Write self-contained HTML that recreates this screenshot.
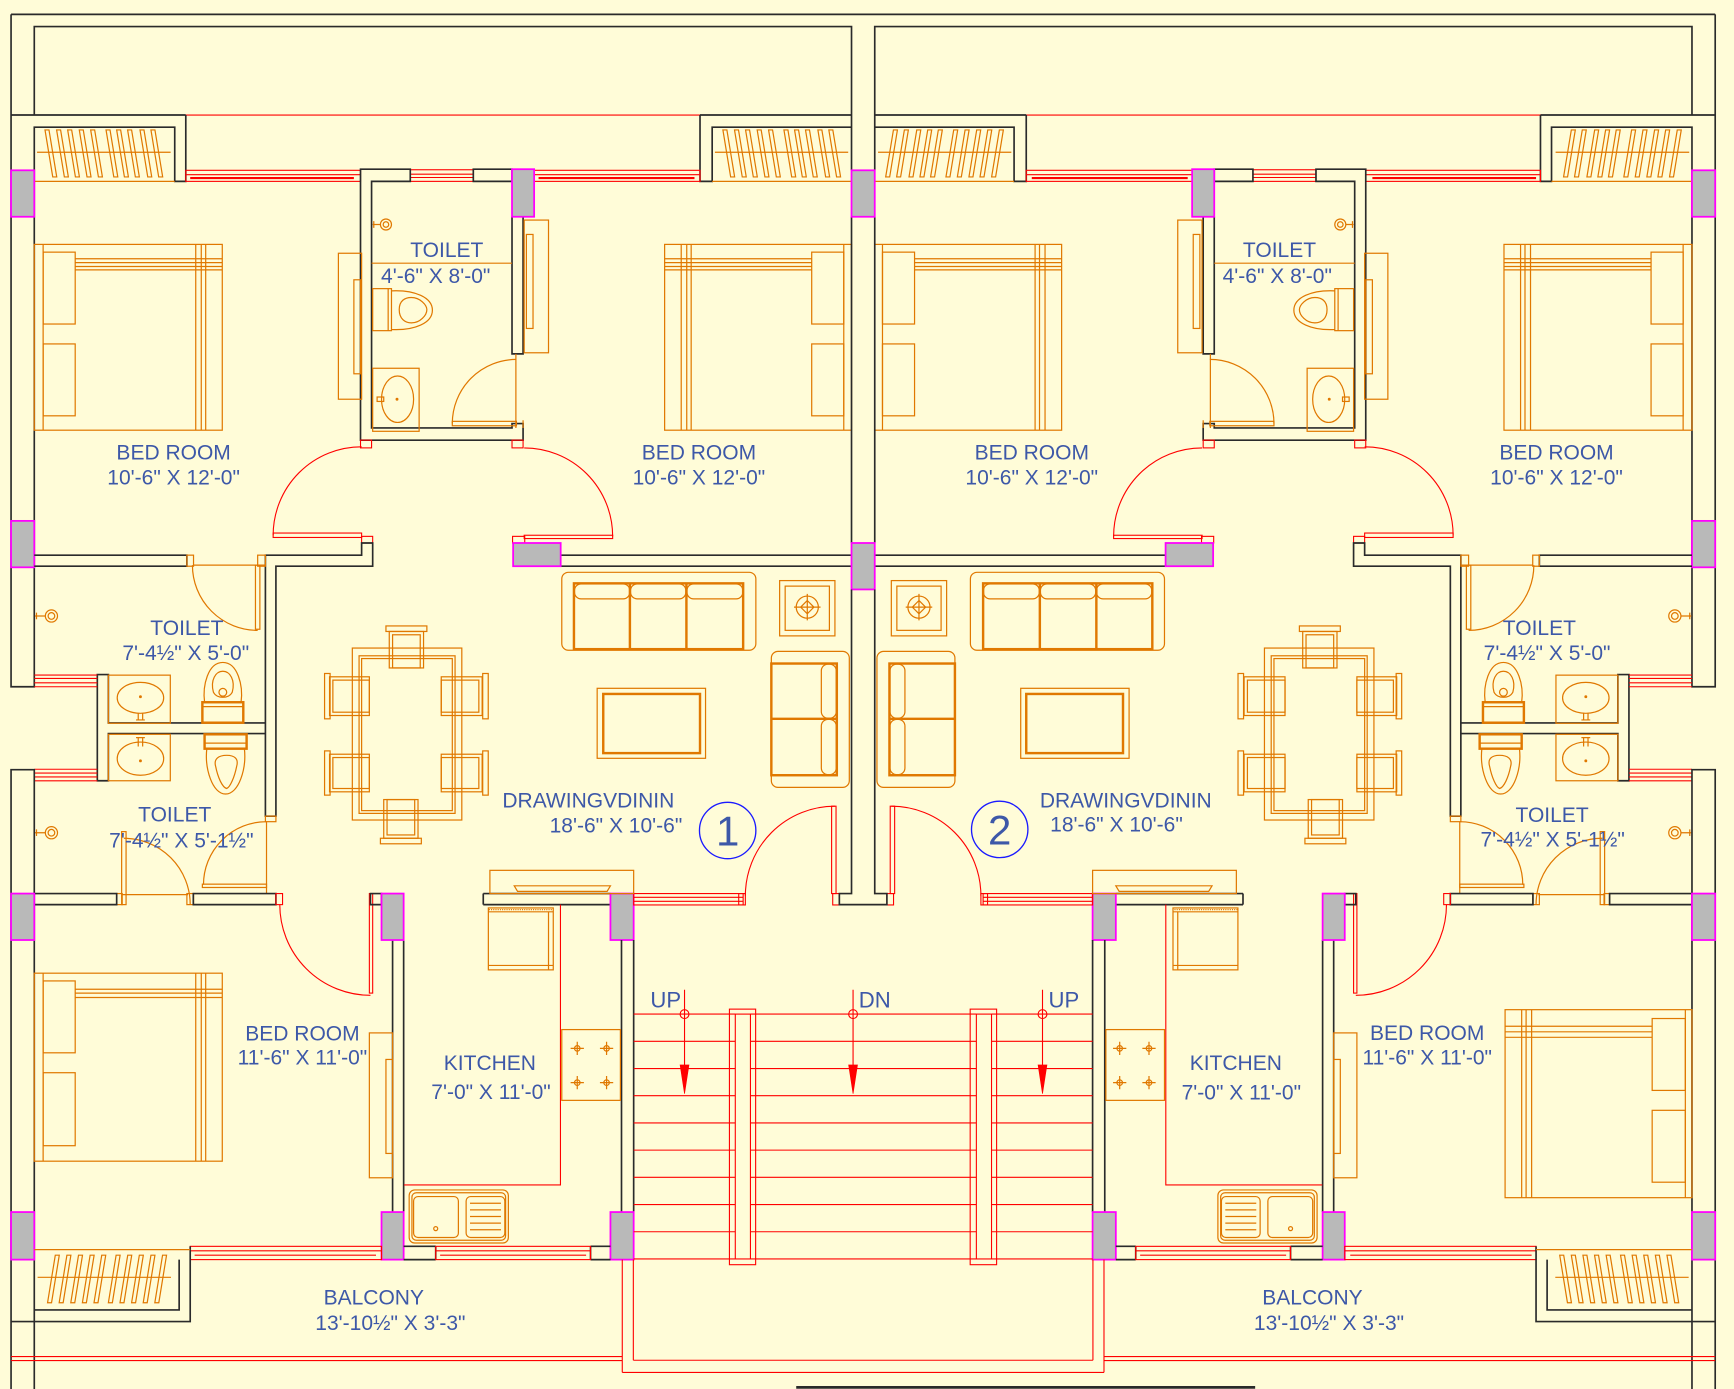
<!DOCTYPE html>
<html><head><meta charset="utf-8"><title>Floor plan</title><style>
html,body{margin:0;padding:0;background:#fffcd8;}
svg{display:block}
</style></head><body>
<svg xmlns="http://www.w3.org/2000/svg" width="1734" height="1389" viewBox="0 0 1568 1256" preserveAspectRatio="none">
<style>
.k{fill:none;stroke:#2a2a2a;stroke-width:1.5}
.r{fill:none;stroke:#ff0000;stroke-width:1}
.r2{fill:none;stroke:#ff0000;stroke-width:2}
.o{fill:none;stroke:#e07800;stroke-width:1.1}
.o2{fill:none;stroke:#e07800;stroke-width:2.2}
.p{fill:#b9b9b9;stroke:#ff00ff;stroke-width:1.6}
.t{font-family:"Liberation Sans",Arial,sans-serif;font-size:19px;fill:#3d58a8;text-anchor:middle}
</style>
<rect width="1568" height="1256" fill="#fffcd8"/>

<!-- shared frame -->
<path class="k" d="M10,13 H1551"/>

<g id="u1">
<path class="k" d="M10,13 V104"/>
<path class="k" d="M31,104 V24 H770 V104"/>
<path class="k" d="M10,104 H168"/>
<path class="r" d="M168,104 H633"/>
<path class="k" d="M633,104 H770"/>
<!-- left wall + top wardrobe -->
<path class="k" d="M10,104 V621 H31 V115 H158 V164 H168 V104"/>
<path class="k" d="M633,104 V164 H644 V115 H770"/>
<!-- wardrobes top -->
<path class="o" d="M31,164 H158 M33.5,137.7 H154.3 M644,164 H770 M646.5,137.7 H767"/>
<g class="o">
<polygon points="40.7,117.5 44.3,117.5 51.3,160 47.7,160"/>
<polygon points="51.2,117.5 54.8,117.5 61.8,160 58.2,160"/>
<polygon points="61.2,117.5 64.8,117.5 71.8,160 68.2,160"/>
<polygon points="71.7,117.5 75.3,117.5 82.3,160 78.7,160"/>
<polygon points="82,117.5 85.6,117.5 92.6,160 89,160"/>
<polygon points="95.9,117.5 99.5,117.5 106.5,160 102.9,160"/>
<polygon points="105.5,117.5 109.1,117.5 116.1,160 112.5,160"/>
<polygon points="115.4,117.5 119,117.5 126,160 122.4,160"/>
<polygon points="126.6,117.5 130.2,117.5 137.2,160 133.6,160"/>
<polygon points="136.5,117.5 140.1,117.5 147.1,160 143.5,160"/>
<polygon points="653.7,117.5 657.3,117.5 664.3,160 660.7,160"/>
<polygon points="664.2,117.5 667.8,117.5 674.8,160 671.2,160"/>
<polygon points="674.2,117.5 677.8,117.5 684.8,160 681.2,160"/>
<polygon points="684.7,117.5 688.3,117.5 695.3,160 691.7,160"/>
<polygon points="695,117.5 698.6,117.5 705.6,160 702,160"/>
<polygon points="708.9,117.5 712.5,117.5 719.5,160 715.9,160"/>
<polygon points="718.5,117.5 722.1,117.5 729.1,160 725.5,160"/>
<polygon points="728.4,117.5 732,117.5 739,160 735.4,160"/>
<polygon points="739.6,117.5 743.2,117.5 750.2,160 746.6,160"/>
<polygon points="749.5,117.5 753.1,117.5 760.1,160 756.5,160"/>
</g>
<!-- top windows -->
<g class="r">
<rect x="168" y="154" width="158" height="10"/><path d="M168,158 H326"/>
<rect x="371" y="153.5" width="57" height="10.5"/><path d="M371,157.5 H428 M371,160.5 H428"/>
<rect x="483" y="154" width="150" height="10"/><path d="M483,158 H633"/>
</g>
<path class="r2" d="M172,161 H320 M487,161 H628"/>
<!-- top toilet walls -->
<path class="k" d="M326,153 H371 V164 H336 V387 H463 V383 H473 V398 H326 Z"/>
<path class="k" d="M428,153 H463 V164 H428 Z"/>
<path class="k" d="M463,196 V320 H473 V196"/>
<rect class="p" x="463" y="153" width="20" height="43"/>
<rect class="r" x="326" y="398" width="10" height="7"/>
<rect class="r" x="463" y="398" width="10" height="7"/>
<!-- top toilet fixtures -->
<path class="o" d="M337,203 H344 M338,200 V206"/>
<circle class="o" cx="349" cy="203" r="5"/>
<circle class="o" cx="349" cy="203" r="2.5"/>
<path class="o" d="M336,238 H463"/>
<rect class="o" x="337" y="261" width="17" height="38"/>
<path class="o" d="M351,261 V299"/>
<path class="o" d="M354,263 C375,262 391,269 391,280.5 C391,292 375,299 354,298"/>
<path class="o" d="M361,280 C361,272 366,269 372,269 C380,269 386,276 386,280 C386,285 380,292 372,292 C366,292 361,288 361,280 Z"/>
<rect class="o" x="337" y="333" width="42" height="57"/>
<ellipse class="o" cx="359.5" cy="361" rx="14.5" ry="21"/>
<rect class="o" x="341" y="359" width="6" height="4"/>
<circle cx="359" cy="361" r="1.3" fill="#e07800"/>
<rect class="o" x="409" y="381" width="58" height="4"/>
<path class="o" d="M409,383 A58,58 0 0 1 467,325"/>
<path class="o" d="M466.5,320 V387 M473,380 V387"/>
<!-- cupboards beside toilet -->
<rect class="o" x="306" y="229" width="21" height="132"/>
<rect class="o" x="320" y="253" width="6" height="85"/>
<rect class="o" x="474" y="199" width="22" height="120"/>
<rect class="o" x="476" y="212" width="6" height="85"/>
<!-- top beds -->
<g class="o">
<rect x="31" y="221" width="170" height="168"/>
<path d="M39,221 V389"/>
<rect x="39" y="228" width="29" height="65"/>
<rect x="39" y="311" width="29" height="65"/>
<path d="M68,234 H201 M68,237.5 H201 M68,241 H201 M68,244 H201"/>
<path d="M177,221 V389 M182,221 V389 M186,221 V389"/>
<rect x="601" y="221" width="169" height="168"/>
<path d="M763,221 V389"/>
<rect x="734" y="228" width="29" height="65"/>
<rect x="734" y="311" width="29" height="65"/>
<path d="M601,234 H734 M601,237.5 H734 M601,241 H734 M601,244 H734"/>
<path d="M616,221 V389 M621,221 V389 M625,221 V389"/>
</g>
<!-- bedroom doors -->
<rect class="r" x="247" y="482" width="80" height="4"/>
<path class="r" d="M247,484 A80,80 0 0 1 327,404"/>
<rect class="r" x="474" y="484" width="80" height="3"/>
<path class="r" d="M474,405 A80,80 0 0 1 554,485"/>
<rect class="r" x="327" y="485" width="10" height="6"/>
<rect class="r" x="463.5" y="485" width="11" height="6"/>
<!-- walls mid -->
<rect class="p" x="10" y="154" width="21" height="42"/>
<rect class="p" x="10" y="471" width="21" height="42"/>
<path class="k" d="M31,502 H169 V512 H31"/>
<path class="k" d="M240,738 V502 H327 V491 H337 V512 H249.5 V738 Z"/>
<path class="k" d="M507,502 H770 M507,512 H770"/>
<rect class="p" x="464" y="491" width="43" height="21"/>
<!-- shaft toilets -->
<path class="k" d="M240,653.7 H98 V610 H88 V706 H98 V663.3 H240"/>
<path class="r" d="M31,610.4 H88 M31,613.5 H88 M31,617.4 H88 M31,621 H88"/>
<path class="r" d="M31,695.6 H88 M31,699 H88 M31,702.5 H88 M31,706 H88"/>
<!-- upper toilet door -->
<rect class="o" x="169" y="502" width="6" height="10"/>
<rect class="o" x="233" y="502" width="7" height="10"/>
<path class="o" d="M175,511 H240"/>
<rect class="o" x="231" y="511" width="4" height="58"/>
<path class="o" d="M174,511 A59,59 0 0 0 233,570"/>
<!-- upper toilet fixtures -->
<path class="o" d="M31.6,557 H41 M33,554 V560"/>
<circle class="o" cx="46.5" cy="557" r="5.5"/>
<circle class="o" cx="46.5" cy="557" r="3"/>
<rect class="o" x="98" y="610.5" width="56" height="43.5"/>
<ellipse class="o" cx="127" cy="631" rx="21" ry="14"/>
<path class="o" d="M125,645 V651 M129,645 V651 M123,651 H131"/>
<circle cx="127" cy="630" r="1.3" fill="#e07800"/>
<rect class="o2" x="183" y="635" width="37" height="18.5"/>
<path class="o" d="M183,639 H220"/>
<path class="o" d="M185,635 C183,620 188,599 201.5,599 C215,599 220,620 218,635"/>
<path class="o" d="M193,626 C190,615 195,607 201.5,607 C208,607 213,615 210,626 C207,632 196,632 193,626 Z"/>
<circle class="o" cx="201.5" cy="626" r="3.5"/>
<!-- lower toilet fixtures -->
<path class="o" d="M31.6,753 H41 M33,750 V756"/>
<circle class="o" cx="46.5" cy="753" r="5.5"/>
<circle class="o" cx="46.5" cy="753" r="3"/>
<rect class="o" x="98" y="664" width="56" height="42"/>
<ellipse class="o" cx="127" cy="686" rx="21" ry="15"/>
<path class="o" d="M125,667 V675 M129,667 V675 M123,667 H131"/>
<circle cx="127" cy="688" r="1.3" fill="#e07800"/>
<rect class="o2" x="185" y="664" width="38" height="13"/>
<path class="o" d="M185,672 H223"/>
<path class="o" d="M187,677 C185,695 192,718 204,718 C216,718 223,695 221,677"/>
<path class="o" d="M195,693 C193,686 198,683 205,683 C212,683 216,686 214,693 C212,703 208,712 205,713 C201,712 197,703 195,693 Z"/>
<!-- lower toilet doors -->
<rect class="o" x="240" y="738" width="9.5" height="5"/>
<path class="o" d="M241,743 V808"/>
<rect class="o" x="183" y="799.5" width="58" height="3"/>
<path class="o" d="M184,800 A57,57 0 0 1 241,743"/>
<rect class="o" x="110" y="752" width="4" height="66"/>
<path class="o" d="M112,758 A60,60 0 0 1 172,818"/>
<rect class="o" x="105.5" y="808" width="5" height="10"/>
<rect class="o" x="169" y="808" width="6" height="10"/>
<path class="o" d="M110,809 H170"/>
<path class="k" d="M31,808 H105.5 V818 H31"/>
<path class="k" d="M174.8,808 H249.5 V818 H174.8 Z"/>
<rect class="r" x="249.5" y="808" width="6" height="10"/>
<!-- lower left wall -->
<path class="k" d="M10,1256 V696 H31 V1256"/>
<rect class="p" x="10" y="808" width="21" height="42"/>
<rect class="p" x="10" y="1096" width="21" height="43"/>
<!-- lower bedroom door -->
<rect class="r" x="334" y="808" width="3" height="90"/>
<path class="r" d="M253,818 A82,82 0 0 0 335,900"/>
<path class="k" d="M335,808 H345 V818 H335 Z"/>
<!-- bedroom / kitchen walls -->
<path class="k" d="M355,850 V1096 M365,850 V1096"/>
<rect class="p" x="345" y="808" width="20" height="42"/>
<rect class="p" x="345" y="1096" width="20" height="43"/>
<path class="k" d="M437,808 H552 M437,818 H552 M437,808 V818"/>
<rect class="p" x="552" y="808" width="21" height="42"/>
<path class="k" d="M562,850 V1096 M573,850 V1096"/>
<rect class="p" x="552" y="1096" width="21" height="43"/>
<!-- front window + entrance -->
<g class="r">
<rect x="573" y="808" width="99" height="10.3"/><path d="M573,811.4 H672 M573,815 H672"/>
<rect x="668" y="808" width="6" height="10.3"/>
<rect x="753" y="808" width="6" height="10.3"/>
<rect x="752" y="729" width="4" height="79"/>
<path d="M755,729 A81,81 0 0 0 674,810"/>
</g>
<!-- bottom walls/windows -->
<path class="k" d="M365,1127 H394 M365,1139 H394 M394,1127 V1139"/>
<path class="k" d="M534,1127 H552 M534,1139 H552 M534,1127 V1139"/>
<g class="r">
<rect x="172" y="1127" width="173" height="12"/><path d="M172,1131 H345 M176,1135 H340"/>
<rect x="394" y="1127" width="140" height="12"/><path d="M394,1131 H534 M398,1135 H530"/>
</g>
<!-- balcony wardrobe -->
<path class="k" d="M10,1195 H172 V1127"/>
<path class="k" d="M31,1184.5 H162 V1139"/>
<path class="o" d="M31,1130 H172 M34,1155 H154.6"/>
<g class="o">
<polygon points="50,1135 53.6,1135 46.6,1178 43,1178"/>
<polygon points="60.5,1135 64.1,1135 57.1,1178 53.5,1178"/>
<polygon points="71,1135 74.6,1135 67.6,1178 64,1178"/>
<polygon points="81.5,1135 85.1,1135 78.1,1178 74.5,1178"/>
<polygon points="92,1135 95.6,1135 88.6,1178 85,1178"/>
<polygon points="105,1135 108.6,1135 101.6,1178 98,1178"/>
<polygon points="115.5,1135 119.1,1135 112.1,1178 108.5,1178"/>
<polygon points="126,1135 129.6,1135 122.6,1178 119,1178"/>
<polygon points="136.5,1135 140.1,1135 133.1,1178 129.5,1178"/>
<polygon points="147,1135 150.6,1135 143.6,1178 140,1178"/>
</g>
<path class="r" d="M10,1226.7 H562.7 M10,1230.3 H562.7 M562.7,1139 V1241 M572.7,1139 V1230"/>
<!-- lower bedroom cupboard -->
<rect class="o" x="334" y="934" width="21" height="131"/>
<rect class="o" x="349" y="958" width="6" height="85"/>
<!-- kitchen -->
<path class="r" d="M506.8,818 V1071.5 H365.3"/>
<rect class="o" x="443" y="787" width="130" height="21"/>
<path class="o" d="M465,801 H552 L549,806 H468 Z"/>
<rect class="o" x="441.6" y="821" width="58.7" height="56"/>
<path class="o" d="M441.6,824.5 H500.3 M441.6,873 H500.3 M496,824.5 V877"/>
<path class="o" d="M442,822.5 H500" stroke-dasharray="1 1"/>
<rect class="o" x="508" y="931" width="53" height="64"/>
<g class="o">
<circle cx="522" cy="948" r="2.5"/><path d="M516,948 H528 M522,942 V954"/>
<circle cx="548.5" cy="948" r="2.5"/><path d="M542.5,948 H554.5 M548.5,942 V954"/>
<circle cx="522" cy="979" r="2.5"/><path d="M516,979 H528 M522,973 V985"/>
<circle cx="548.5" cy="979" r="2.5"/><path d="M542.5,979 H554.5 M548.5,973 V985"/>
<rect x="370" y="1076" width="89.7" height="48" rx="5"/>
<rect x="372.5" y="1078.5" width="84.7" height="43" rx="4"/>
<rect x="374" y="1082" width="40.5" height="37" rx="4"/>
<rect x="421.5" y="1082" width="35" height="37" rx="4"/>
<circle cx="394" cy="1111" r="1.8"/>
<path d="M425,1088 H453 M425,1094 H453 M425,1100 H453 M425,1106 H453 M425,1112 H453"/>
</g>
<!-- drawing room furniture -->
<g class="o">
<rect x="508" y="517.5" width="175.5" height="70.5" rx="6"/>
<rect x="519.5" y="528" width="50" height="13.5" rx="6"/>
<rect x="570.2" y="528" width="50" height="13.5" rx="6"/>
<rect x="621.2" y="528" width="50.5" height="13.5" rx="6"/>
<rect x="705" y="525" width="50" height="50"/>
<rect x="710" y="530" width="40" height="40"/>
<circle cx="730" cy="549" r="10"/>
<path d="M730,543 L736,549 L730,555 L724,549 Z M718,549 H742 M730,537 V561"/>
<rect x="697.5" y="589" width="70.5" height="123" rx="6"/>
<rect x="742.7" y="600.5" width="13.5" height="49" rx="6"/>
<rect x="742.7" y="650.5" width="13.5" height="50" rx="6"/>
<rect x="540" y="622.4" width="98" height="63.3"/>
<rect x="318.6" y="586" width="99" height="155.5"/>
<rect x="327" y="595.5" width="82" height="137.5"/>
<rect x="352" y="571" width="31" height="33"/><rect x="355" y="574" width="25" height="30"/><rect x="349" y="566" width="37" height="5"/>
<rect x="347" y="723" width="31" height="35"/><rect x="350" y="723" width="25" height="32"/><rect x="344" y="758" width="37" height="5"/>
<rect x="298" y="612" width="36" height="35"/><rect x="301" y="615" width="33" height="29"/><rect x="293.5" y="609" width="5" height="41"/>
<rect x="298" y="682" width="36" height="34"/><rect x="301" y="685" width="33" height="28"/><rect x="293.5" y="679" width="5" height="40"/>
<rect x="399" y="612" width="37" height="35"/><rect x="399" y="615" width="34" height="29"/><rect x="436.5" y="609" width="5" height="41"/>
<rect x="399" y="682" width="37" height="34"/><rect x="399" y="685" width="34" height="28"/><rect x="436.5" y="679" width="5" height="40"/>
</g>
<g class="o2">
<rect x="519" y="527.5" width="153" height="59.5"/>
<path d="M569.6,527.5 V587 M620.7,527.5 V587"/>
<rect x="697.5" y="600" width="59.2" height="101"/>
<path d="M697.5,650 H756.7"/>
<rect x="545.5" y="627.5" width="87.5" height="53.5"/>
</g>
<rect class="o" x="324.7" y="593" width="86.8" height="142.5" stroke-width="1.8"/>
</g>

<!-- mirrored unit 2 -->
<use href="#u1" transform="matrix(-1,0,0,1,1561,0)"/>

<!-- central divider -->
<path class="k" d="M770,104 V154 M791,104 V154 M770,196 V491 M791,196 V491"/>
<rect class="p" x="770" y="154" width="21" height="42"/>
<rect class="p" x="770" y="491" width="21" height="42"/>
<path class="k" d="M770,533 V808 H759 V818 H802 V808 H791 V533"/>

<!-- lower beds -->
<g class="o">
<rect x="31" y="880" width="170" height="170"/>
<path d="M39,880 V1050"/>
<rect x="39" y="887" width="29" height="65"/>
<rect x="39" y="970" width="29" height="66"/>
<path d="M68,894.5 H201 M68,898 H201 M68,902 H201"/>
<path d="M177,880 V1050 M182,880 V1050 M186,880 V1050"/>
<rect x="1361" y="913" width="169" height="170"/>
<path d="M1524,913 V1083"/>
<rect x="1494" y="921" width="30" height="65"/>
<rect x="1494" y="1004" width="30" height="65"/>
<path d="M1361,928 H1494 M1361,933 H1494 M1361,938 H1494"/>
<path d="M1376,913 V1083 M1380,913 V1083 M1385,913 V1083"/>
</g>

<!-- stairs -->
<g class="r">
<path d="M572.7,1230 H988.3 M562.7,1241 H998.3"/>
<path d="M573,917H664.9M678.6,917H882.9M896.6,917H988
M573,941.6H664.9M678.6,941.6H882.9M896.6,941.6H988
M573,966.2H664.9M678.6,966.2H882.9M896.6,966.2H988
M573,990.8H664.9M678.6,990.8H882.9M896.6,990.8H988
M573,1015.4H664.9M678.6,1015.4H882.9M896.6,1015.4H988
M573,1040H664.9M678.6,1040H882.9M896.6,1040H988
M573,1064.6H664.9M678.6,1064.6H882.9M896.6,1064.6H988
M573,1089.2H664.9M678.6,1089.2H882.9M896.6,1089.2H988
M573,1113.8H664.9M678.6,1113.8H882.9M896.6,1113.8H988
M573,1138.4H664.9M678.6,1138.4H882.9M896.6,1138.4H988"/>
<rect x="659.6" y="912.5" width="23.7" height="231.1"/>
<rect x="664.9" y="917" width="13.7" height="221.4"/>
<rect x="877.3" y="912.5" width="23.9" height="231.1"/>
<rect x="882.9" y="917" width="13.7" height="221.4"/>
<path d="M619,895 V970 M771.4,895 V970 M942.7,895 V970"/>
<circle cx="619" cy="917" r="4"/>
<circle cx="771.4" cy="917" r="4"/>
<circle cx="942.7" cy="917" r="4"/>
</g>
<path d="M615,963 L623,963 L619,989 Z M767.4,963 L775.4,963 L771.4,989 Z M938.7,963 L946.7,963 L942.7,989 Z" fill="#ff0000" stroke="#ff0000" stroke-width="0.6"/>
<path d="M720,1254.5 H1135" stroke="#2a2a2a" stroke-width="2.5"/>

<!-- circles -->
<ellipse cx="658" cy="751" rx="25.5" ry="25.5" fill="none" stroke="#1a1aff" stroke-width="1.2"/>
<ellipse cx="904" cy="750" rx="25.5" ry="25.5" fill="none" stroke="#1a1aff" stroke-width="1.2"/>
<text class="t" x="658" y="764.5" style="font-size:38px">1</text>
<text class="t" x="904" y="763.5" style="font-size:38px">2</text>

<!-- labels unit 1 -->
<text class="t" x="404" y="232.5">TOILET</text>
<text class="t" x="394" y="255.7">4'-6" X 8'-0"</text>
<text class="t" x="157" y="415.7">BED ROOM</text>
<text class="t" x="157" y="438.2">10'-6" X 12'-0"</text>
<text class="t" x="632" y="415.7">BED ROOM</text>
<text class="t" x="632" y="438.2">10'-6" X 12'-0"</text>
<text class="t" x="169" y="574">TOILET</text>
<text class="t" x="168" y="597">7'-4½" X 5'-0"</text>
<text class="t" x="158" y="743">TOILET</text>
<text class="t" x="164" y="766.5">7'-4½" X 5'-1½"</text>
<text class="t" x="532" y="730">DRAWINGVDININ</text>
<text class="t" x="557" y="753">18'-6" X 10'-6"</text>
<text class="t" x="273.5" y="940.7">BED ROOM</text>
<text class="t" x="273.5" y="962.7">11'-6" X 11'-0"</text>
<text class="t" x="443" y="967.7">KITCHEN</text>
<text class="t" x="444" y="993.7">7'-0" X 11'-0"</text>
<text class="t" x="338" y="1179.7">BALCONY</text>
<text class="t" x="353" y="1202.7">13'-10½" X 3'-3"</text>
<text class="t" x="602" y="911" style="font-size:20px">UP</text>
<text class="t" x="791" y="911" style="font-size:20px">DN</text>
<text class="t" x="962" y="911" style="font-size:20px">UP</text>
<!-- labels unit 2 -->
<text class="t" x="1157" y="232.5">TOILET</text>
<text class="t" x="1155" y="255.7">4'-6" X 8'-0"</text>
<text class="t" x="933" y="415.7">BED ROOM</text>
<text class="t" x="933" y="438.2">10'-6" X 12'-0"</text>
<text class="t" x="1407.5" y="415.7">BED ROOM</text>
<text class="t" x="1407.5" y="438.2">10'-6" X 12'-0"</text>
<text class="t" x="1392" y="574.3">TOILET</text>
<text class="t" x="1399" y="596.8">7'-4½" X 5'-0"</text>
<text class="t" x="1403.5" y="743.2">TOILET</text>
<text class="t" x="1404" y="765.3">7'-4½" X 5'-1½"</text>
<text class="t" x="1018" y="730">DRAWINGVDININ</text>
<text class="t" x="1009.6" y="752">18'-6" X 10'-6"</text>
<text class="t" x="1117.5" y="967.5">KITCHEN</text>
<text class="t" x="1122.5" y="994.4">7'-0" X 11'-0"</text>
<text class="t" x="1290.6" y="940.5">BED ROOM</text>
<text class="t" x="1290.6" y="962.6">11'-6" X 11'-0"</text>
<text class="t" x="1186.8" y="1179.5">BALCONY</text>
<text class="t" x="1201.8" y="1202.5">13'-10½" X 3'-3"</text>
</svg>
</body></html>
